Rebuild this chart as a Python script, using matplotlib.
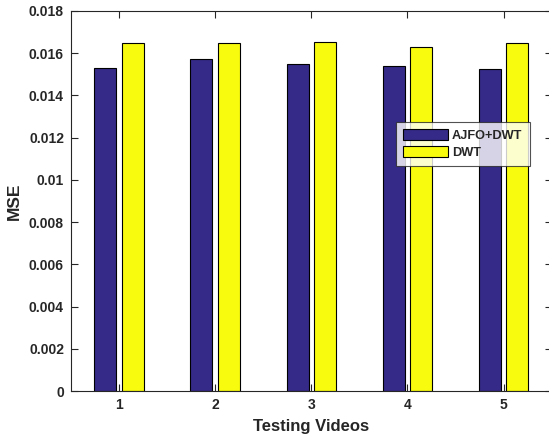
import matplotlib.pyplot as plt
import numpy as np

plt.rcParams['font.family'] = ['Liberation Sans', 'DejaVu Sans']
plt.rcParams['font.weight'] = 'bold'

videos = [1, 2, 3, 4, 5]
mse_ajfo_dwt = [0.01531, 0.01573, 0.01548, 0.01541, 0.01525]
mse_dwt = [0.01647, 0.01647, 0.01655, 0.01631, 0.01650]
series_names = ['AJFO+DWT', 'DWT']

navy = '#352A87'
yellow = '#F9FB0E'
axis_col = '#262626'

fig = plt.figure(figsize=(5.49, 4.38), dpi=100)
ax = fig.add_axes([0.129, 0.107, 0.876, 0.868])

x = np.array(videos)
w = 0.229
off = 0.143
ax.bar(x - off, mse_ajfo_dwt, w, color=navy, edgecolor='black', linewidth=0.8,
       label=series_names[0])
ax.bar(x + off, mse_dwt, w, color=yellow, edgecolor='black', linewidth=0.8,
       label=series_names[1])

ax.set_xlim(0.5, 5.5)
ax.set_ylim(0, 0.018)
ax.set_xticks(videos)
ax.set_yticks(np.arange(0, 0.0181, 0.002))
ax.set_yticklabels(['0', '0.002', '0.004', '0.006', '0.008', '0.01',
                    '0.012', '0.014', '0.016', '0.018'])

for s in ax.spines.values():
    s.set_color(axis_col)
    s.set_linewidth(0.8)
ax.tick_params(direction='in', length=5, width=0.8, color=axis_col,
               labelcolor=axis_col, labelsize=10, top=True, right=True, pad=5)

ax.set_xlabel('Testing Videos', fontsize=12, fontweight='bold', color=axis_col,
              labelpad=5)
ax.set_ylabel('MSE', fontsize=12.5, fontweight='bold', color=axis_col, labelpad=5)

leg = ax.legend(loc='upper left', bbox_to_anchor=(0.676, 0.708), fontsize=9.2,
                frameon=True, fancybox=False, edgecolor=axis_col,
                handlelength=3.5, handleheight=1.0, handletextpad=0.35,
                borderpad=0.55, labelspacing=0.3, borderaxespad=0)
leg.get_frame().set_linewidth(0.8)
for t in leg.get_texts():
    t.set_fontweight('bold')
    t.set_color(axis_col)

fig.savefig('out.png', dpi=100)
